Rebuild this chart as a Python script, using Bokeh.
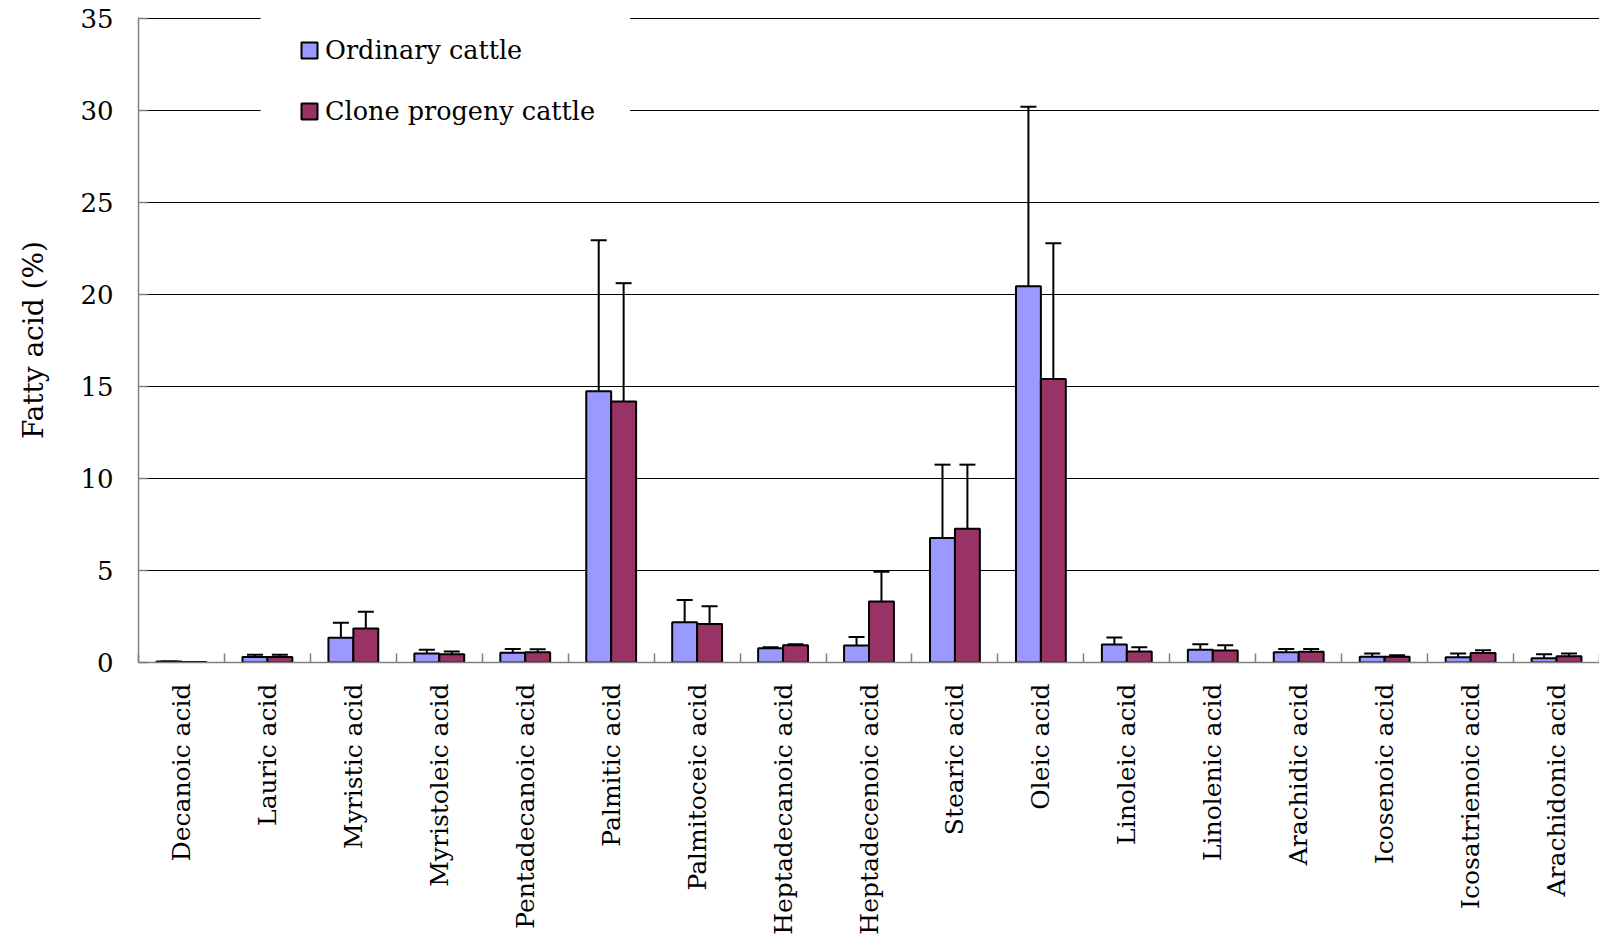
import math
from bokeh.plotting import figure
from bokeh.models import (ColumnDataSource, FixedTicker, Range1d, Legend, LegendItem,
                          Whisker, TeeHead, BoxAnnotation)
from bokeh.embed import file_html
from bokeh.resources import INLINE

# Fatty acid composition (%), mean and upper SD for two groups of cattle
acids = ["Decanoic acid", "Lauric acid", "Myristic acid", "Myristoleic acid",
         "Pentadecanoic acid", "Palmitic acid", "Palmitoceic acid", "Heptadecanoic acid",
         "Heptadecenoic acid", "Stearic acid", "Oleic acid", "Linoleic acid",
         "Linolenic acid", "Arachidic acid", "Icosenoic acid", "Icosatrienoic acid",
         "Arachidonic acid"]
ordinary = [0.05, 0.30, 1.34, 0.49, 0.53, 14.75, 2.19, 0.78, 0.92, 6.77, 20.47,
            0.98, 0.69, 0.56, 0.31, 0.29, 0.23]
ordinary_sd = [0.0, 0.12, 0.82, 0.20, 0.21, 8.21, 1.21, 0.05, 0.47, 3.99, 9.76,
               0.38, 0.30, 0.18, 0.18, 0.20, 0.22]
clone = [0.03, 0.30, 1.85, 0.45, 0.56, 14.20, 2.10, 0.94, 3.32, 7.27, 15.42,
         0.60, 0.65, 0.58, 0.31, 0.51, 0.34]
clone_sd = [0.0, 0.12, 0.91, 0.15, 0.16, 6.43, 0.96, 0.05, 1.62, 3.49, 7.38,
            0.23, 0.29, 0.16, 0.09, 0.16, 0.15]
y_ticks = [0, 5, 10, 15, 20, 25, 30, 35]

FONT = "DejaVu Serif"
ORD_COLOR = "#9999FF"
CLONE_COLOR = "#993366"
AXIS_GREY = "#808080"
BAR_W = 0.29

idx = list(range(len(acids)))
src_ord = ColumnDataSource(dict(
    x=[i - BAR_W / 2 for i in idx], top=ordinary,
    upper=[v + e for v, e in zip(ordinary, ordinary_sd)]))
src_clone = ColumnDataSource(dict(
    x=[i + BAR_W / 2 for i in idx], top=clone,
    upper=[v + e for v, e in zip(clone, clone_sd)]))

# a hair of headroom above 35 keeps the top gridline inside the frame
p = figure(width=1599, height=937, output_backend="svg", toolbar_location=None,
           x_range=Range1d(-0.5, len(acids) - 0.5), y_range=Range1d(0, 35.08),
           min_border_left=138, min_border_right=0, min_border_top=17,
           min_border_bottom=275)
p.outline_line_color = None
p.background_fill_color = "white"

# error bars (upper only)
for src in (src_ord, src_clone):
    w = Whisker(source=src, base="x", lower="top", upper="upper",
                line_color="black", line_width=2, lower_head=None,
                upper_head=TeeHead(size=16, line_color="black", line_width=2))
    p.add_layout(w)

r_ord = p.vbar(x="x", top="top", width=BAR_W, source=src_ord,
               fill_color=ORD_COLOR, line_color="black", line_width=2)
r_clone = p.vbar(x="x", top="top", width=BAR_W, source=src_clone,
                 fill_color=CLONE_COLOR, line_color="black", line_width=2)

# y axis
p.yaxis.ticker = FixedTicker(ticks=y_ticks)
p.yaxis.major_tick_in = 9
p.yaxis.major_tick_out = 0
p.yaxis.minor_tick_line_color = None
p.yaxis.axis_line_color = AXIS_GREY
p.yaxis.axis_line_width = 1.5
p.yaxis.major_tick_line_color = AXIS_GREY
p.yaxis.major_tick_line_width = 1.5
p.yaxis.major_label_text_font = FONT
p.yaxis.major_label_text_font_size = "26px"
p.yaxis.major_label_text_color = "black"
p.yaxis.major_label_standoff = 25
p.yaxis.axis_label = "Fatty acid (%)"
p.yaxis.axis_label_text_font = FONT
p.yaxis.axis_label_text_font_size = "28px"
p.yaxis.axis_label_text_font_style = "normal"
p.yaxis.axis_label_text_color = "black"
p.yaxis.axis_label_standoff = 27

# x axis: labels at category centres, small ticks at category boundaries
p.xaxis.ticker = FixedTicker(ticks=idx, minor_ticks=[i - 0.5 for i in range(len(acids) + 1)])
p.xaxis.major_label_overrides = {i: name for i, name in zip(idx, acids)}
p.xaxis.major_label_orientation = math.pi / 2
p.xaxis.major_tick_line_color = None
p.xaxis.minor_tick_in = 9
p.xaxis.minor_tick_out = 0
p.xaxis.minor_tick_line_color = AXIS_GREY
p.xaxis.minor_tick_line_width = 1.5
p.xaxis.axis_line_color = AXIS_GREY
p.xaxis.axis_line_width = 1.5
p.xaxis.major_label_text_font = FONT
p.xaxis.major_label_text_font_size = "25px"
p.xaxis.major_label_text_color = "black"
p.xaxis.major_label_standoff = 15

p.xgrid.grid_line_color = None
p.ygrid.ticker = FixedTicker(ticks=y_ticks[1:])
p.ygrid.grid_line_color = "black"
p.ygrid.grid_line_width = 1

# white panel behind the legend, masking the gridlines it sits on
p.add_layout(BoxAnnotation(left=0.92, right=5.22, bottom=28.4,
                           fill_color="white", fill_alpha=1.0, line_color=None))

legend = Legend(items=[LegendItem(label="Ordinary cattle", renderers=[r_ord]),
                       LegendItem(label="Clone progeny cattle", renderers=[r_clone])],
                location=(161, 536), orientation="vertical",
                label_text_font=FONT, label_text_font_size="25.5px",
                label_text_color="black", label_height=30, label_standoff=6,
                glyph_width=20, glyph_height=20, spacing=31, padding=0, margin=0,
                border_line_color=None, background_fill_color="white",
                background_fill_alpha=1.0)
p.add_layout(legend)

open("out.html", "w").write(file_html(p, INLINE))
